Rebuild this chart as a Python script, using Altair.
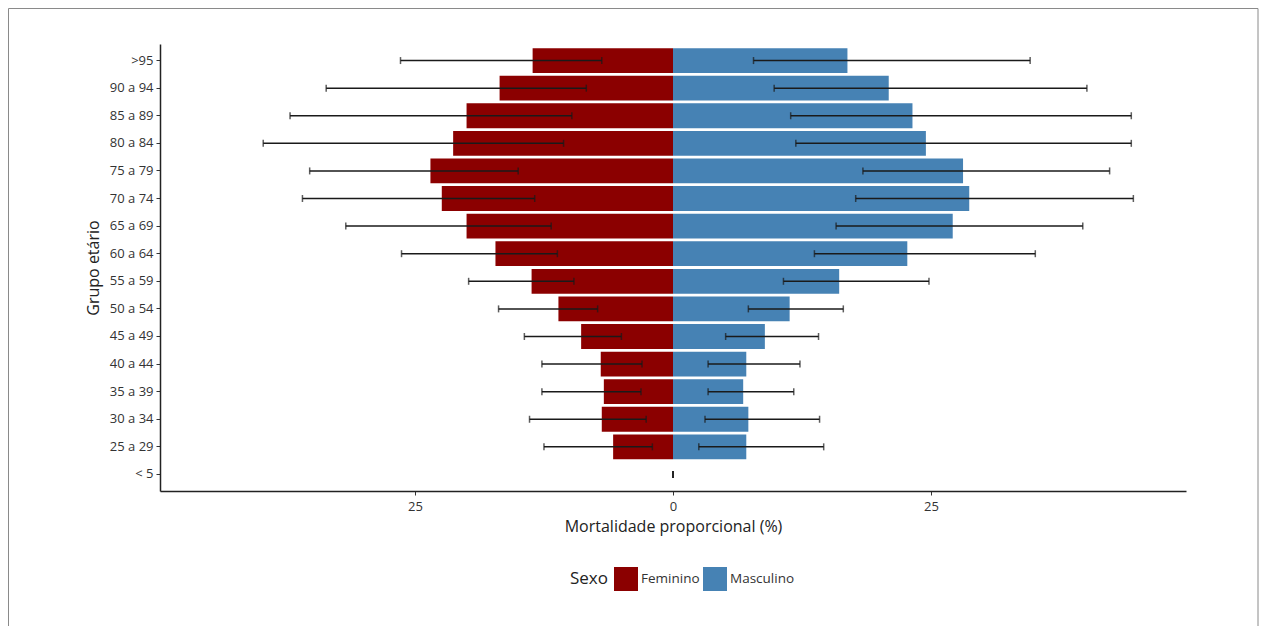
import altair as alt
import pandas as pd

grupos = [">95", "90 a 94", "85 a 89", "80 a 84", "75 a 79", "70 a 74", "65 a 69",
          "60 a 64", "55 a 59", "50 a 54", "45 a 49", "40 a 44", "35 a 39",
          "30 a 34", "25 a 29", "< 5"]

feminino = [13.6, 16.8, 20.0, 21.3, 23.5, 22.4, 20.0, 17.2, 13.7, 11.1, 8.9, 7.0, 6.7, 6.9, 5.8, 0.0]
fem_ic_ext = [26.4, 33.6, 37.1, 39.7, 35.2, 35.9, 31.7, 26.3, 19.8, 16.9, 14.4, 12.7, 12.7, 13.9, 12.5, 0.0]
fem_ic_int = [6.9, 8.4, 9.8, 10.6, 15.0, 13.4, 11.8, 11.2, 9.6, 7.3, 5.0, 3.0, 3.1, 2.6, 2.0, 0.0]

masculino = [16.9, 20.9, 23.2, 24.5, 28.1, 28.7, 27.1, 22.7, 16.1, 11.3, 8.9, 7.1, 6.8, 7.3, 7.1, 0.0]
mas_ic_inf = [7.8, 9.8, 11.4, 11.9, 18.4, 17.7, 15.8, 13.7, 10.7, 7.3, 5.1, 3.4, 3.4, 3.1, 2.5, 0.0]
mas_ic_sup = [34.6, 40.1, 44.4, 44.4, 42.3, 44.6, 39.7, 35.1, 24.8, 16.5, 14.1, 12.3, 11.7, 14.2, 14.6, 0.0]

sexos = ["Feminino", "Masculino"]
cores = ["#8B0000", "#4682B4"]
ticks_x = [-25, 0, 25]

rows = []
for i, g in enumerate(grupos):
    rows.append(dict(grupo=g, sexo="Feminino", valor=-feminino[i],
                     lo=-fem_ic_ext[i], hi=-fem_ic_int[i]))
    rows.append(dict(grupo=g, sexo="Masculino", valor=masculino[i],
                     lo=mas_ic_inf[i], hi=mas_ic_sup[i]))
df = pd.DataFrame(rows)

FONT = "Open Sans"
xscale = alt.Scale(domain=[-49.7, 49.7], nice=False, zero=False)
yscale = alt.Scale(paddingInner=0.1, paddingOuter=0.15)

xaxis = alt.Axis(values=ticks_x, labelExpr="abs(datum.value)", grid=False,
                 domainColor="#222", domainWidth=1.5, tickColor="#333", tickWidth=1,
                 tickSize=4, labelFontSize=13, labelColor="#333", labelPadding=5,
                 title="Mortalidade proporcional (%)", titleFontSize=16,
                 titleFontWeight="normal", titleColor="#222", titlePadding=5)
yaxis = alt.Axis(grid=False, domainColor="#222", domainWidth=1.5, tickColor="#333",
                 tickWidth=1, tickSize=4, labelFontSize=13, labelColor="#333",
                 labelPadding=3, title="Grupo etário", titleFontSize=16,
                 titleFontWeight="normal", titleColor="#222", titlePadding=8)

base = alt.Chart(df)

bars = base.mark_bar().encode(
    x=alt.X("valor:Q", scale=xscale, axis=xaxis, stack=None),
    y=alt.Y("grupo:N", sort=grupos, scale=yscale, axis=yaxis),
    color=alt.Color("sexo:N", scale=alt.Scale(domain=sexos, range=cores),
                    legend=alt.Legend(orient="none", legendX=410, legendY=523,
                                      direction="horizontal", titleOrient="left",
                                      title="Sexo", symbolType="square", symbolSize=576,
                                      symbolStrokeWidth=0, symbolOpacity=1,
                                      labelFontSize=13.5, labelColor="#333",
                                      titleFontSize=17, titleFontWeight="normal",
                                      titleColor="#222", titlePadding=6,
                                      columnPadding=3, labelOffset=3, padding=0)),
)

rules = base.mark_rule(color="#1a1a1a", strokeWidth=1.5).encode(
    x=alt.X("lo:Q", scale=xscale),
    x2="hi:Q",
    y=alt.Y("grupo:N", sort=grupos, scale=yscale),
)

caps_lo = base.mark_tick(color="#1a1a1a", thickness=1.5, size=7).encode(
    x=alt.X("lo:Q", scale=xscale),
    y=alt.Y("grupo:N", sort=grupos, scale=yscale),
)
caps_hi = base.mark_tick(color="#1a1a1a", thickness=1.5, size=7).encode(
    x=alt.X("hi:Q", scale=xscale),
    y=alt.Y("grupo:N", sort=grupos, scale=yscale),
)

frame = alt.Chart(pd.DataFrame({"k": [0]})).mark_rect(
    filled=False, stroke="#8a8a8a", strokeWidth=1
).encode(
    x=alt.value(-151.5), x2=alt.value(1098), y=alt.value(-35.5), y2=alt.value(700)
)

chart = alt.layer(frame, bars, rules, caps_lo, caps_hi).properties(
    width=1026, height=447,
    autosize=alt.AutoSizeParams(type="none"),
    padding={"left": 152, "top": 36, "right": 73, "bottom": 135},
).configure(font=FONT).configure_view(stroke=None)

chart.save("out.html", embed_options={"renderer": "svg", "actions": False})
